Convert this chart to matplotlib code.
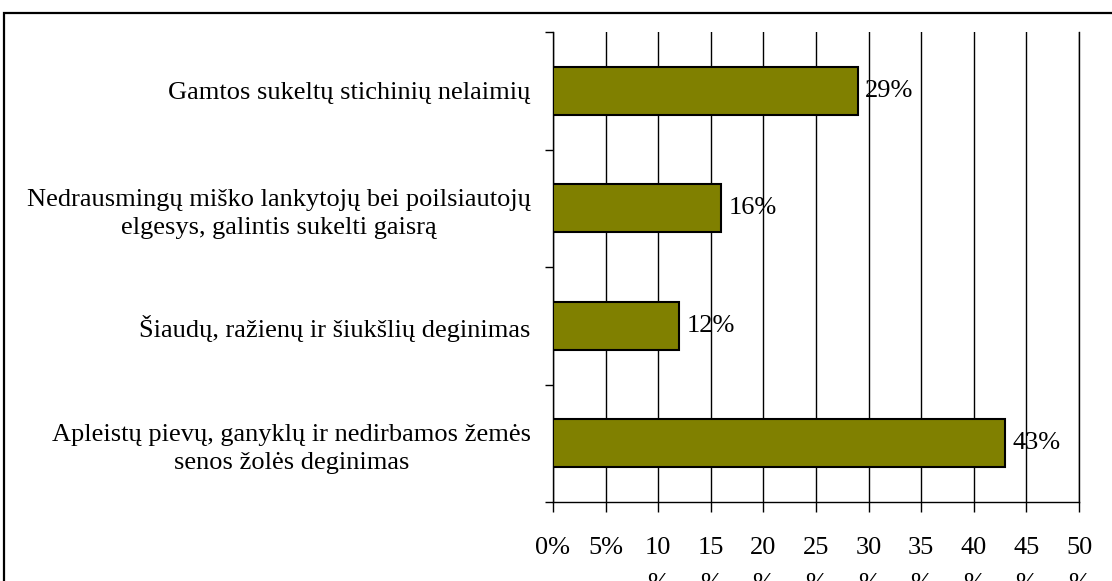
import matplotlib
matplotlib.use("Agg")
import matplotlib.pyplot as plt
from matplotlib.patches import Rectangle
import numpy as np

categories = [
    "Gamtos sukeltų stichinių nelaimių",
    "Nedrausmingų miško lankytojų bei poilsiautojų\nelgesys, galintis sukelti gaisrą",
    "Šiaudų, ražienų ir šiukšlių deginimas",
    "Apleistų pievų, ganyklų ir nedirbamos žemės\nsenos žolės deginimas",
]
values = [29, 16, 12, 43]
xticks = [0, 5, 10, 15, 20, 25, 30, 35, 40, 45, 50]
xtick_labels = ["0%", "5%", "10\n%", "15\n%", "20\n%", "25\n%", "30\n%",
                "35\n%", "40\n%", "45\n%", "50\n%"]

plt.rcParams['font.family'] = ['Liberation Serif', 'DejaVu Serif']
FS = 19

W, H = 1112, 581
fig = plt.figure(figsize=(W / 100, H / 100), dpi=100)
fig.patch.set_facecolor("white")

ax = fig.add_axes([553 / W, 1 - 502 / H, (1079 - 553) / W, (502 - 32) / H])

n = len(categories)
ypos = np.arange(n)[::-1]  # first category at top
ax.barh(ypos, values, height=0.41, color="#808000", edgecolor="black",
        linewidth=1.5, zorder=3)

for y, v in zip(ypos, values):
    ax.annotate(f"{v}%", (v, y), xytext=(5, 0), textcoords="offset points",
                va="center", ha="left", fontsize=FS, zorder=4)

ax.set_xlim(0, 50)
ax.set_ylim(-0.5, n - 0.5)
ax.set_xticks(xticks)
ax.set_xticklabels(xtick_labels, fontsize=FS, va="top", linespacing=1.85)
ax.tick_params(axis="x", direction="out", length=7, width=1, pad=18)

ax.set_yticks(ypos)
ax.set_yticklabels(categories, fontsize=FS, ha="right", multialignment="center",
                   linespacing=1.35)
ax.tick_params(axis="y", which="major", length=0, pad=16)
ax.set_yticks(np.arange(n + 1) - 0.5, minor=True)
ax.tick_params(axis="y", which="minor", direction="out", length=6, width=1)

ax.grid(axis="x", color="black", linewidth=1, zorder=0)
ax.set_axisbelow(True)
ax.spines["top"].set_visible(False)
ax.spines["right"].set_linewidth(1)
ax.spines["right"].set_color("black")
for s in ["left", "bottom"]:
    ax.spines[s].set_linewidth(1)

border = Rectangle((4 / W, -0.1), 1.2, (1 - 13 / H) + 0.1, transform=fig.transFigure,
                   fill=False, edgecolor="black", linewidth=1.6, clip_on=False)
fig.patches.append(border)

fig.savefig("out.png", dpi=100)
